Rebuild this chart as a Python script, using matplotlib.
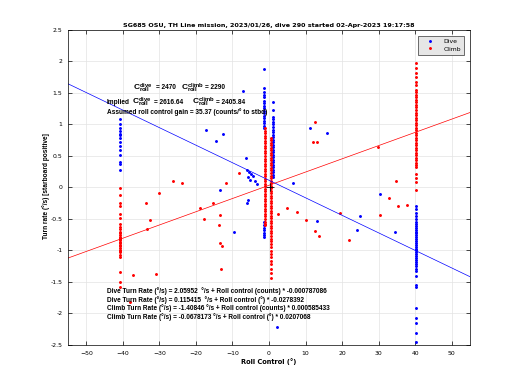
import matplotlib
matplotlib.use("Agg")
import matplotlib.pyplot as plt

# --- data --------------------------------------------------------------
# dive (blue) columns: roll position -> turn rates
dive_left_x = -40.9
dive_left_y = [1.09, 1.01, 0.95, 0.89, 0.85, 0.83, 0.79, 0.73, 0.66, 0.60, 0.52,
               0.40, 0.38, 0.28]
dive_c1_x = -1.4
dive_c1_y = [1.88, 1.58, 1.52, 1.47, 1.43, 1.38, 1.34, 1.30, 1.26, 1.22, 1.18,
             1.14, 1.10, 1.06, 1.02, 0.98, 0.95, -0.55, -0.60, -0.64, -0.68,
             -0.72, -0.76, -0.79]
dive_c2_x = 1.0
dive_c2_y = [1.36, 1.23, 1.12, 1.08, 1.04, 1.00, 0.96, 0.92, 0.88, 0.84, 0.80,
             0.76, 0.72, 0.68, 0.64, 0.60, 0.56, 0.52, 0.48, 0.44, 0.40, 0.36,
             0.32, 0.28, 0.24, 0.20, 0.17]
dive_right_x = 40.3
dive_right_y = [-0.29, -0.34, -0.40, -0.45, -0.50, -0.54, -0.58, -0.61, -0.64,
                -0.67, -0.70, -0.73, -0.76, -0.79, -0.82, -0.85, -0.88, -0.91,
                -0.94, -0.97, -1.00, -1.03, -1.06, -1.09, -1.12, -1.15, -1.18,
                -1.21, -1.25, -1.29, -1.33, -1.40, -1.55, -1.58, -1.91, -2.07,
                -2.15, -2.31, -2.45]
dive_sc_x = [-7.1, -17.2, -14.5, -12.5, -6.3, -6.0, -5.4, -4.9, -4.4, -5.8,
             -5.1, -13.4, -5.7, -6.0, -9.6, 6.6, 11.2, 13.0, 15.8, 25.0, 24.0,
             30.3, 34.4, 2.2, -3.8, -3.2]
dive_sc_y = [1.53, 0.91, 0.74, 0.85, 0.47, 0.28, 0.25, 0.22, 0.18, 0.16,
             0.12, -0.04, -0.20, -0.25, -0.71, 0.07, 0.94, -0.53, 0.87, -0.45,
             -0.67, -0.10, -0.71, -2.21, 0.10, 0.05]

# climb (red) columns
climb_left_x = -40.9
climb_left_y = [-0.01, -0.12, -0.25, -0.29, -0.42, -0.49, -0.58, -0.62, -0.66,
                -0.70, -0.72, -0.75, -0.78, -0.80, -0.82, -0.84, -0.86, -0.88,
                -0.91, -0.93, -0.96, -0.99, -1.01, -1.03, -1.07, -1.10, -1.34,
                -1.50, -1.58]
climb_c1_x = -1.2
climb_c1_y = [0.94, 0.90, 0.86, 0.82, 0.78, 0.74, 0.70, 0.66, 0.62, 0.58, 0.54,
              0.50, 0.46, 0.42, 0.38, 0.34, 0.30, 0.26, 0.22, 0.18, 0.14, 0.10,
              0.06, 0.02, -0.02, -0.06, -0.10, -0.14, -0.18, -0.22, -0.26,
              -0.30, -0.34, -0.38, -0.42, -0.46, -0.50, -0.54, -0.58, -0.60]
climb_c2_x = 0.6
climb_c2_y = [0.79, 0.75, 0.71, 0.67, 0.63, 0.59, 0.55, 0.51, 0.47, 0.43, 0.39,
              0.35, 0.31, 0.27, 0.23, 0.19, 0.15, 0.11, 0.07, 0.03, -0.01,
              -0.05, -0.09, -0.13, -0.17, -0.21, -0.25, -0.29, -0.33, -0.37,
              -0.41, -0.45, -0.49, -0.53, -0.57, -0.61, -0.65, -0.69, -0.73,
              -0.77, -0.81, -0.85, -0.90, -0.95, -1.01, -1.06, -1.10, -1.17,
              -1.22, -1.29, -1.35, -1.44]
climb_right_x = 40.3
climb_right_y = [1.98, 1.90, 1.82, 1.75, 1.68, 1.62, 1.55, 1.51, 1.47, 1.43,
                 1.39, 1.35, 1.31, 1.27, 1.23, 1.19, 1.15, 1.11, 1.07, 1.03,
                 0.99, 0.95, 0.91, 0.87, 0.83, 0.79, 0.75, 0.71, 0.67, 0.63,
                 0.59, 0.55, 0.51, 0.47, 0.43, 0.39, 0.35, 0.33, 0.22, 0.15,
                 0.08, -0.04]
climb_sc_x = [-26.2, -30.0, -33.6, -32.5, -33.3, -37.2, -30.9, -38.0, -23.8,
              -17.8, -15.4, -13.4, -13.7, -13.4, -12.9, -13.1, -11.7, -8.2,
              4.9, 7.6, 2.5, 10.1, 12.6, 12.1, 13.1, 12.6, 13.7, 22.0, 19.5,
              29.8, 34.7, 32.8, 35.2, 37.7, 30.3, -18.9]
climb_sc_y = [0.10, -0.09, -0.25, -0.52, -0.66, -1.39, -1.37, -1.82, 0.07,
              -0.50, -0.25, -0.44, -0.60, -0.88, -0.93, -1.29, 0.07, 0.23,
              -0.33, -0.39, -0.42, -0.52, 1.04, 0.72, 0.72, -0.69, -0.77,
              -0.83, -0.40, 0.64, 0.10, -0.17, -0.30, -0.28, -0.44, -0.33]

# fitted lines (end points)
fit_x = [-55, 55]
dive_fit_y = [1.646, -1.416]
climb_fit_y = [-1.12, 1.19]

title = "SG685 OSU, TH Line mission, 2023/01/26, dive 290 started 02-Apr-2023 19:17:58"
eq_lines = [
    "Dive Turn Rate (°/s) = 2.05952  °/s + Roll control (counts) * -0.000787086",
    "Dive Turn Rate (°/s) = 0.115415  °/s + Roll control (°) * -0.0278392",
    "Climb Turn Rate (°/s) = -1.40846 °/s + Roll control (counts) * 0.000585433",
    "Climb Turn Rate (°/s) = -0.0678173 °/s + Roll control (°) * 0.0207068",
]

# --- figure ---------------------------------------------------------------
plt.rcParams['font.family'] = ['DejaVu Sans']
plt.rcParams['mathtext.fontset'] = 'custom'
plt.rcParams['mathtext.bf'] = 'Liberation Sans:bold'
plt.rcParams['mathtext.rm'] = 'Liberation Sans'
fs = 4.4
afont = ['Liberation Sans', 'DejaVu Sans']
fig = plt.figure(figsize=(5.2, 3.9), dpi=100)
ax = fig.add_axes([0.1308, 0.1154, 0.773, 0.8077])

ms = 2.2
blue = '#0000ff'
red = '#ff0000'
ax.plot([dive_left_x] * len(dive_left_y), dive_left_y, '.', color=blue, ms=ms, label='Dive')
ax.plot([dive_c1_x] * len(dive_c1_y), dive_c1_y, '.', color=blue, ms=ms)
ax.plot([dive_c2_x] * len(dive_c2_y), dive_c2_y, '.', color=blue, ms=ms)
ax.plot([dive_right_x] * len(dive_right_y), dive_right_y, '.', color=blue, ms=ms)
ax.plot(dive_sc_x, dive_sc_y, '.', color=blue, ms=ms)

ax.plot([climb_left_x] * len(climb_left_y), climb_left_y, '.', color=red, ms=ms, label='Climb')
ax.plot([climb_c1_x] * len(climb_c1_y), climb_c1_y, '.', color=red, ms=ms)
ax.plot([climb_c2_x] * len(climb_c2_y), climb_c2_y, '.', color=red, ms=ms)
ax.plot([climb_right_x] * len(climb_right_y), climb_right_y, '.', color=red, ms=ms)
ax.plot(climb_sc_x, climb_sc_y, '.', color=red, ms=ms)

ax.plot(fit_x, dive_fit_y, '-', color=blue, lw=0.5)
ax.plot(fit_x, climb_fit_y, '-', color=red, lw=0.5)
ax.plot([0.3], [0.0], '+', color='black', ms=6, mew=0.6)

ax.set_xlim(-55, 55)
ax.set_ylim(-2.5, 2.5)
ax.set_xticks(range(-50, 51, 10))
ax.set_yticks([-2.5, -2, -1.5, -1, -0.5, 0, 0.5, 1, 1.5, 2, 2.5])
ax.set_yticklabels(['-2.5', '-2', '-1.5', '-1', '-0.5', '0', '0.5', '1', '1.5', '2', '2.5'])
ax.tick_params(direction='in', length=3, width=0.5, labelsize=fs,
               top=True, right=True, pad=4)
ax.grid(True, color='#e3e3e3', lw=0.5)
ax.set_axisbelow(True)
for s in ax.spines.values():
    s.set_linewidth(0.5)

ax.set_title(title, fontsize=4.55, fontweight='bold', pad=2)
ax.set_xlabel('Roll Control (°)', fontsize=fs + 0.4, fontweight='bold', labelpad=2)
ax.set_ylabel('Turn rate (°/s) [starboard positive]', fontsize=fs + 0.3,
              fontweight='bold', family=afont)
ax.yaxis.set_label_coords(-0.045, 0.505)

tk = dict(fontsize=4.7, fontweight='bold', va='center', family=afont)
ck = dict(fontsize=6.0, va='center')
c_dive = r'$\mathbf{C_{roll}^{dive}}$'
c_climb = r'$\mathbf{C_{roll}^{climb}}$'
ax.text(-37.2, 1.58, c_dive, **ck)
ax.text(-31.0, 1.58, '= 2470', **tk)
ax.text(-24.0, 1.58, c_climb, **ck)
ax.text(-17.4, 1.58, '= 2290', **tk)
ax.text(-44.3, 1.35, 'Implied', **tk)
ax.text(-37.6, 1.35, c_dive, **ck)
ax.text(-31.4, 1.35, '= 2616.64', **tk)
ax.text(-21.0, 1.35, c_climb, **ck)
ax.text(-14.4, 1.35, '= 2405.84', **tk)
ax.text(-44.3, 1.20, 'Assumed roll control gain = 35.37 (counts/° to stbd)', **tk)
for i, t in enumerate(eq_lines):
    ax.text(-44.3, -1.645 - i * 0.138, t, **tk)

leg = ax.legend(loc='upper right', fontsize=fs, frameon=True, fancybox=False,
                markerscale=1.0, handlelength=2.8, borderpad=0.5,
                labelspacing=0.3, handletextpad=0.8, borderaxespad=1.0)
leg.get_frame().set_facecolor('#e6e6e6')
leg.get_frame().set_edgecolor('#333333')
leg.get_frame().set_linewidth(0.5)
leg.get_frame().set_alpha(1)

fig.savefig('out.png', dpi=100)
